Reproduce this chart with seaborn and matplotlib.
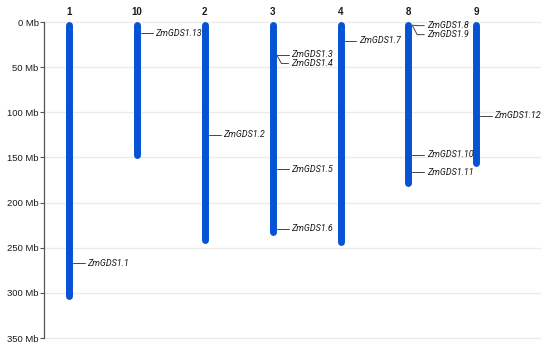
import numpy as np
import pandas as pd
import matplotlib.pyplot as plt
import seaborn as sns

# Chromosomes in display order and their lengths (Mb)
chroms = ['1', '10', '2', '3', '4', '8', '9']
lengths = [307.0, 151.0, 244.4, 235.7, 247.0, 181.1, 159.8]

# Gene positions (Mb) and where their labels sit (Mb)
genes = ['ZmGDS1.1', 'ZmGDS1.2', 'ZmGDS1.3', 'ZmGDS1.4', 'ZmGDS1.5', 'ZmGDS1.6',
         'ZmGDS1.7', 'ZmGDS1.8', 'ZmGDS1.9', 'ZmGDS1.10', 'ZmGDS1.11',
         'ZmGDS1.12', 'ZmGDS1.13']
gene_chrom = ['1', '2', '3', '3', '3', '3', '4', '8', '8', '8', '8', '9', '10']
gene_pos = [267.0, 125.0, 36.0, 36.5, 163.0, 229.0, 20.7, 3.5, 4.0, 147.0, 166.5, 103.7, 12.2]
label_pos = [267.0, 125.0, 36.0, 46.0, 163.0, 229.0, 20.7, 4.0, 14.0, 147.0, 166.5, 103.7, 12.2]

yticks = [0, 50, 100, 150, 200, 250, 300, 350]

blue = '#0553d4'

sns.set_theme(style='white')
plt.rcParams['font.family'] = ['Liberation Sans', 'DejaVu Sans']

fig = plt.figure(figsize=(5.5, 3.51), dpi=100)
ax = fig.add_axes([0.08, 1 - 338 / 351, 0.9018, (338 - 22) / 351])

# long-form table: two ends per chromosome
cap = 3.3  # half the line width in Mb, so rounded tips end at 0 and at length
rows = []
for i, (c, L) in enumerate(zip(chroms, lengths)):
    rows.append({'chrom': c, 'x': i, 'pos': cap})
    rows.append({'chrom': c, 'x': i, 'pos': L - cap})
df = pd.DataFrame(rows)

for y in yticks:
    ax.axhline(y, color='#ebebeb', lw=1, zorder=0, clip_on=False)

sns.lineplot(data=df, x='x', y='pos', units='chrom', estimator=None, sort=False,
             color=blue, lw=5, solid_capstyle='round', ax=ax, legend=False,
             zorder=3, clip_on=False)

# gene labels
idx = {c: i for i, c in enumerate(chroms)}
for g, c, p, lp in zip(genes, gene_chrom, gene_pos, label_pos):
    x0 = idx[c]
    ax.plot([x0 + 0.06, x0 + 0.13, x0 + 0.235], [p, lp, lp],
            color='#444444', lw=0.7, zorder=2)
    ax.text(x0 + 0.27, lp, g, fontsize=6.5, style='italic', color='#1a1a1a',
            family=['Roboto', 'Liberation Sans'],
            va='center', ha='left', zorder=4)

# chromosome names on top
for i, c in enumerate(chroms):
    ax.text(i, -11, c, fontsize=7, fontweight='bold', color='#1a1a1a',
            ha='center', va='center')

ax.set_xlim(-0.37, 6.94)
ax.set_ylim(350, 0)
ax.set_yticks(yticks)
ax.set_yticklabels([f'{t} Mb' for t in yticks], fontsize=6.8, color='#1a1a1a')
ax.set_xticks([])
ax.set_xlabel('')
ax.set_ylabel('')
for s in ['top', 'right', 'bottom']:
    ax.spines[s].set_visible(False)
ax.spines['left'].set_color('#555555')
ax.spines['left'].set_linewidth(0.9)
ax.tick_params(axis='y', left=True, length=3, width=0.8, color='#555555', pad=0.8)

fig.savefig('out.png', dpi=100)
